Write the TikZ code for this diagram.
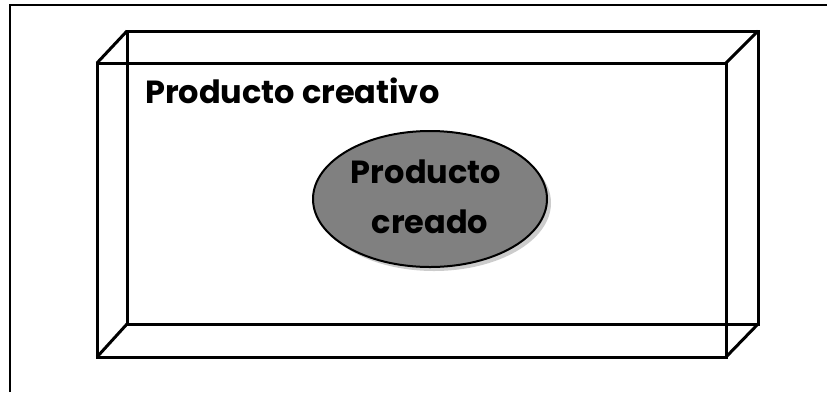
\documentclass[tikz,border=0pt]{standalone}
\usepackage{fontspec}
\setmainfont{Poppins}
\usetikzlibrary{shapes.geometric,shadows}
\begin{document}
\begin{tikzpicture}[x=1pt,y=-1pt,
  boxline/.style={line width=3pt,line join=miter},
  lbl/.style={font=\fontsize{32}{36}\selectfont\bfseries,inner sep=0pt,anchor=base west}]
\useasboundingbox (0,0) rectangle (827,392);
% frame
\draw[line width=2.2pt] (10,392) -- (10,5) -- (827,5);
% box corners
\coordinate (fa) at (97,63);
\coordinate (fb) at (726,63);
\coordinate (fc) at (726,357);
\coordinate (fd) at (97,357);
\coordinate (ba) at (127,31);
\coordinate (bb) at (758,31);
\coordinate (bc) at (758,324);
\coordinate (bd) at (127,324);
\draw[boxline] (ba) -- (bb) -- (bc) -- (bd) -- cycle;
\draw[boxline] (fa) -- (fb) -- (fc) -- (fd) -- cycle;
\draw[boxline] (fa) -- (ba) (fb) -- (bb) (fc) -- (bc) (fd) -- (bd);
\node[lbl] (t1) at (145,103) {Producto creativo};
\node[ellipse,draw=black,line width=2pt,fill={rgb,255:red,128;green,128;blue,128},
  minimum width=234pt,minimum height=136pt,
  drop shadow={shadow xshift=4pt,shadow yshift=-4pt,opacity=0.4}] (e) at (430,199) {};
\node[lbl,anchor=base] (t2) at (426,183) {Producto};
\node[lbl,anchor=base] (t3) at (430,233) {creado};
\end{tikzpicture}
\end{document}
